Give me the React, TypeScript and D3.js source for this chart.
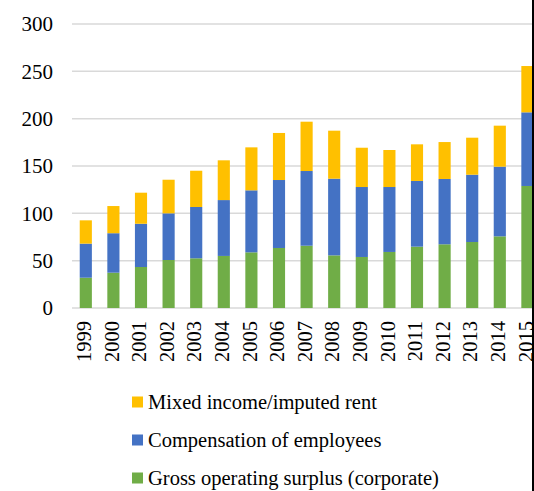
import React from "react";
import * as d3 from "d3";

const years = ["1999","2000","2001","2002","2003","2004","2005","2006","2007","2008","2009","2010","2011","2012","2013","2014","2015"];
const grossSurplus = [32, 37.3, 43.3, 50.7, 52.5, 55, 58.8, 63.4, 65.8, 55.6, 53.9, 59.2, 64.8, 67.3, 69.7, 75.7, 128.9];
const compensation = [36, 41.7, 45.7, 49.3, 54.2, 59, 65.5, 71.8, 78.9, 81, 73.9, 68.6, 69.4, 69, 71.1, 73.6, 77.8];
const mixedIncome = [24.6, 28.7, 32.8, 35.5, 38.3, 42, 45.4, 49.7, 52.1, 50.7, 41.5, 39.1, 38.7, 39, 39.1, 43.3, 48.9];
const yTicks = [0, 50, 100, 150, 200, 250, 300];

const seriesKeys = ["gross", "comp", "mixed"];
const seriesColors = { gross: "#70AD47", comp: "#4472C4", mixed: "#FFC000" };
const legendItems = [
  { key: "mixed", label: "Mixed income/imputed rent" },
  { key: "comp", label: "Compensation of employees" },
  { key: "gross", label: "Gross operating surplus (corporate)" },
];

const W = 534;
const H = 491;
const FONT = '"Liberation Serif", "DejaVu Serif", serif';
const textStyle = { fontFamily: FONT } as React.CSSProperties;

export default function App() {
  const rows = years.map((y, i) => ({
    year: y,
    gross: grossSurplus[i],
    comp: compensation[i],
    mixed: mixedIncome[i],
  }));
  const stack = d3.stack<any>().keys(seriesKeys)(rows);
  const x = d3.scaleBand<string>().domain(years).range([72, 541.2]).paddingInner(0.56).paddingOuter(0.28);
  const y = d3.scaleLinear().domain([0, 300]).range([308, 24]);

  return (
    <svg width={W} height={H} style={{ position: "absolute", left: 0, top: 0, background: "#fff", fontFamily: FONT }}>
      <rect x={0} y={0} width={W} height={H} fill="#fff" />
      {yTicks.map((t) => (
        <g key={t}>
          <line x1={72} x2={532} y1={y(t)} y2={y(t)} stroke="#d9d9d9" strokeWidth={1.5} />
          <text x={53} y={y(t)} dy="0.35em" textAnchor="end" style={textStyle} fontSize={21} fill="#000">
            {t}
          </text>
        </g>
      ))}
      {stack.map((s) => (
        <g key={s.key} fill={(seriesColors as any)[s.key]}>
          {s.map((d, i) => (
            <rect
              key={i}
              x={x(years[i])}
              width={x.bandwidth()}
              y={y(d[1])}
              height={y(d[0]) - y(d[1])}
            />
          ))}
        </g>
      ))}
      {years.map((yr) => (
        <text
          key={yr}
          transform={`translate(${(x(yr) as number) + x.bandwidth() / 2},321) rotate(-90)`}
          dy="0.25em"
          textAnchor="end"
          style={textStyle}
          fontSize={20.5}
          fill="#000"
        >
          {yr}
        </text>
      ))}
      {legendItems.map((it, i) => (
        <g key={it.key} transform={`translate(0,${402 + i * 38})`}>
          <rect x={132} y={-5.5} width={11} height={11} fill={(seriesColors as any)[it.key]} />
          <text x={148} y={0} dy="0.35em" style={textStyle} fontSize={20.5} fill="#000">
            {it.label}
          </text>
        </g>
      ))}
      <rect x={532} y={0} width={2} height={H} fill="#000" />
    </svg>
  );
}
